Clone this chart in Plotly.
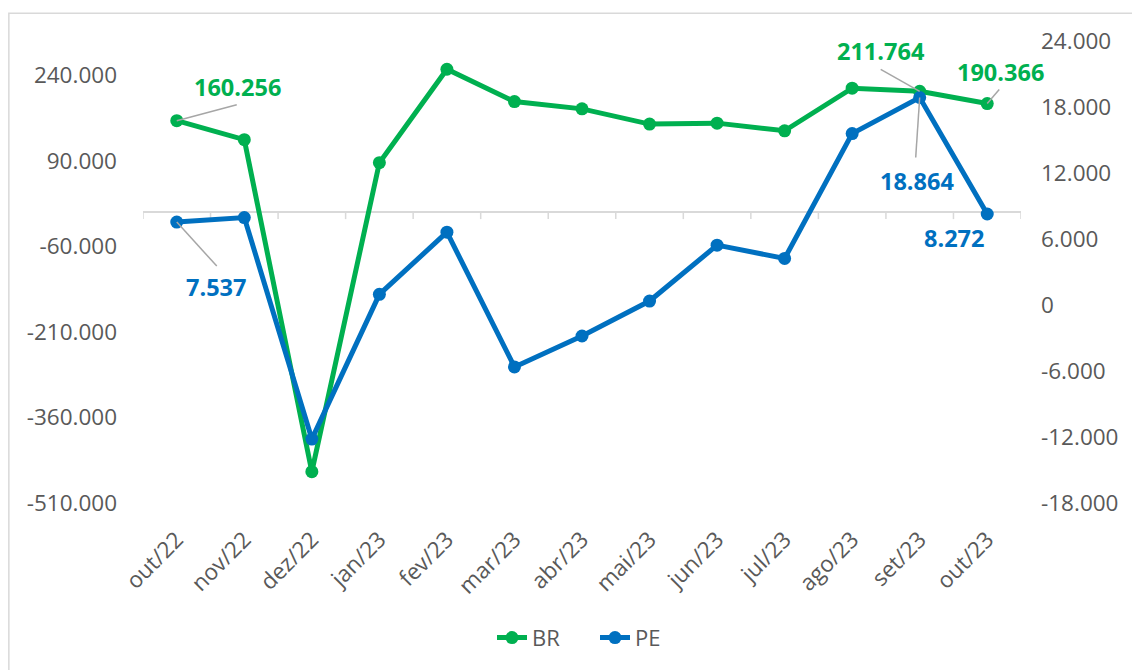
import plotly.graph_objects as go

months = ["out/22", "nov/22", "dez/22", "jan/23", "fev/23", "mar/23", "abr/23",
          "mai/23", "jun/23", "jul/23", "ago/23", "set/23", "out/23"]
br = [160256, 127000, -455000, 86600, 250500, 193800, 181000, 154300, 156000,
      142600, 217300, 211764, 190366]
pe = [7537, 7950, -12190, 970, 6620, -5630, -2820, 360, 5440, 4230, 15580,
      18864, 8272]

left_ticks = [-510000, -360000, -210000, -60000, 90000, 240000]
right_ticks = [-18000, -12000, -6000, 0, 6000, 12000, 18000, 24000]

GREEN = "#00B050"
BLUE = "#0070C0"
GRAY_TXT = "#595959"
LINE_GRAY = "#D9D9D9"
LEADER = "#A6A6A6"
FONT = "Open Sans"


def fmt(v):
    return f"{v:,}".replace(",", ".")


fig = go.Figure()
fig.add_trace(go.Scatter(
    x=months, y=br, name="BR", mode="lines+markers",
    line=dict(color=GREEN, width=5), marker=dict(color=GREEN, size=13),
    yaxis="y"))
fig.add_trace(go.Scatter(
    x=months, y=pe, name="PE", mode="lines+markers",
    line=dict(color=BLUE, width=5), marker=dict(color=BLUE, size=13),
    yaxis="y2"))

# data labels: (axis, series, index, text dx, text dy(px, down+), leader dx, leader dy(down+), colour)
labels = [
    ("y", br, 0, 61, -34, 60, -16, GREEN),
    ("y", br, 11, -39, -40, -39, -22, GREEN),
    ("y", br, 12, 13, -32, 12, -14, GREEN),
    ("y2", pe, 0, 39, 65, 40, 44, BLUE),
    ("y2", pe, 11, -3, 83, -4, 60, BLUE),
    ("y2", pe, 12, -33, 24, None, None, BLUE),
]
shapes = []
annotations = []
for yref, series, i, tx, ty, lx, ly, col in labels:
    annotations.append(dict(
        x=months[i], y=series[i], xref="x", yref=yref, text=fmt(series[i]),
        showarrow=False, xshift=tx, yshift=-ty,
        font=dict(family=FONT, size=23.5, color=col, weight="bold")))
    if lx is not None:
        shapes.append(dict(
            type="line", xref="x", yref=yref, xsizemode="pixel", ysizemode="pixel",
            xanchor=i, yanchor=series[i], x0=0, y0=0, x1=lx, y1=-ly,
            line=dict(color=LEADER, width=1.5), layer="above"))

# tick marks on the category axis line (at y=0 of the left axis), at category boundaries
for k in range(len(months) + 1):
    shapes.append(dict(
        type="line", xref="x", yref="y", ysizemode="pixel", yanchor=0,
        x0=k - 0.5, x1=k - 0.5, y0=0, y1=-7,
        line=dict(color=LINE_GRAY, width=1.5), layer="below"))

# chart border
shapes.append(dict(type="rect", xref="paper", yref="paper",
                   x0=-0.1528, x1=1.3, y0=-0.6, y1=1.0598,
                   line=dict(color=LINE_GRAY, width=1.5), layer="below"))

fig.update_layout(
    width=1132, height=670,
    margin=dict(l=143, r=111, t=41, b=166),
    paper_bgcolor="white", plot_bgcolor="white",
    font=dict(family=FONT, size=22, color=GRAY_TXT),
    showlegend=True,
    legend=dict(orientation="h", x=0.3975, xanchor="left", y=-0.289, yanchor="middle",
                font=dict(family=FONT, size=22, color=GRAY_TXT),
                entrywidth=58, entrywidthmode="pixels",
                traceorder="normal"),
    xaxis=dict(type="category", range=[-0.5, len(months) - 0.5], showgrid=False,
               showline=False, zeroline=False, ticks="", tickangle=-45,
               ticklabelstandoff=18, tickfont=dict(size=22.5, color=GRAY_TXT)),
    yaxis=dict(range=[-510000, 300000], tickvals=left_ticks,
               ticktext=[fmt(v) for v in left_ticks], showgrid=False,
               zeroline=True, zerolinecolor=LINE_GRAY, zerolinewidth=1.5,
               showline=False, ticks="", ticklabelstandoff=25,
               tickfont=dict(size=22.5, color=GRAY_TXT)),
    yaxis2=dict(range=[-18000, 24000], tickvals=right_ticks,
                ticktext=[fmt(v) for v in right_ticks], overlaying="y",
                side="right", showgrid=False, zeroline=False, showline=False,
                ticks="", ticklabelstandoff=19,
                tickfont=dict(size=22.5, color=GRAY_TXT)),
    shapes=shapes,
    annotations=annotations,
)

fig.write_html(
    "out.html",
    config={"displayModeBar": False},
    post_script="document.body.style.margin='0';"
                "document.body.style.overflow='hidden';"
                "document.documentElement.style.overflow='hidden';",
)
